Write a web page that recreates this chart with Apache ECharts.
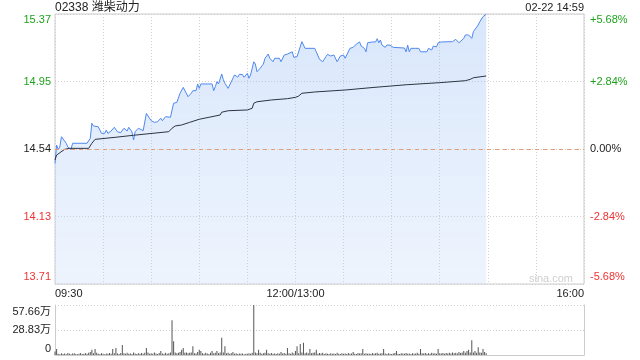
<!DOCTYPE html>
<html>
<head>
<meta charset="utf-8">
<script src="https://cdn.jsdelivr.net/npm/echarts@6/dist/echarts.min.js"></script>
<style>html,body{margin:0;padding:0;background:#fff}#c{width:640px;height:360px}</style>
</head>
<body>
<div id="c"></div>
<script>
const stockTitle = '02338 潍柴动力';
const stampText = '02-22 14:59';
const prevClose = 14.545;
const xTickMinutes = [0, 150, 330];
const xTickLabels = ['09:30', '12:00/13:00', '16:00'];
const priceTickLabels = ['13.71', '14.13', '14.54', '14.95', '15.37'];
const pctTickLabels = ['-5.68%', '-2.84%', '0.00%', '+2.84%', '+5.68%'];
const volTickLabels = ['0', '28.83万', '57.66万'];

const priceMinutes = [0,1,2,3,4,5,7,8,10,11,20,22,23,24,25,27,29,31,32,33,35,37,39,41,43,45,46,48,49,50,52,53,55,57,58,60,62,63,64,66,67,69,72,73,74,76,78,80,81,83,85,86,88,89,90,91,98,99,100,101,102,104,105,106,108,109,111,112,114,115,117,118,120,121,122,124,125,126,128,130,131,133,134,136,137,140,141,143,145,148,149,151,152,154,155,156,162,163,165,167,169,170,172,174,176,178,180,181,182,183,184,186,188,190,191,193,194,195,198,200,201,202,203,204,205,206,207,209,211,212,218,219,220,221,222,225,227,228,232,233,235,236,238,239,241,248,250,252,253,255,256,258,260,261,262,264,265,267,268,269];
const prices = [14.457,14.569,14.543,14.557,14.620,14.615,14.580,14.557,14.543,14.580,14.580,14.610,14.702,14.686,14.690,14.681,14.641,14.641,14.661,14.641,14.655,14.678,14.650,14.645,14.672,14.655,14.678,14.650,14.600,14.651,14.672,14.661,14.657,14.763,14.760,14.718,14.708,14.718,14.712,14.733,14.718,14.743,14.739,14.743,14.825,14.830,14.886,14.922,14.910,14.865,14.886,14.902,14.902,14.943,14.916,14.943,14.943,14.902,14.926,14.957,14.943,15.004,14.970,14.947,14.916,14.925,14.978,14.998,14.985,15.002,15.000,14.984,15.008,14.978,14.998,15.079,15.065,15.018,15.039,15.065,15.100,15.126,15.100,15.079,15.100,15.100,15.079,15.120,15.126,15.140,15.106,15.110,15.100,15.202,15.200,15.161,15.161,15.140,15.094,15.079,15.110,15.124,15.114,15.120,15.079,15.114,15.120,15.100,15.120,15.126,15.161,15.167,15.187,15.200,15.175,15.161,15.140,15.195,15.200,15.200,15.220,15.195,15.212,15.181,15.187,15.167,15.181,15.181,15.167,15.163,15.163,15.140,15.181,15.140,15.161,15.161,15.161,15.140,15.140,15.161,15.151,15.175,15.170,15.195,15.200,15.202,15.216,15.195,15.200,15.222,15.243,15.243,15.222,15.263,15.270,15.304,15.324,15.355,15.365,15.370];

const avgMinutes = [0,1,3,6,9,21,23,25,38,49,71,73,75,79,84,90,96,103,104,108,120,123,124,126,135,145,150,152,154,162,181,199,219,240,256,259,261,269];
const avgPrices = [14.478,14.508,14.522,14.543,14.549,14.549,14.580,14.604,14.617,14.629,14.651,14.672,14.686,14.692,14.708,14.727,14.739,14.753,14.770,14.779,14.784,14.794,14.825,14.834,14.845,14.853,14.861,14.869,14.886,14.894,14.906,14.922,14.938,14.951,14.963,14.971,14.981,14.992];

// volume in 万, one per minute from 09:30
const volumes = [4,7,1.5,1,2,1.2,1.8,1,2.2,1.4,1,1.6,2,1.2,1,1.5,2.3,1.1,1.3,2,1.5,2.5,3.5,6,2,7,2.5,1.5,1.2,2,1.4,1,1.8,1.3,2.2,1.5,7,2,8,1.6,1.2,2.4,11.5,2,1.5,2.6,1.3,1.8,1.2,3,1.6,1.1,2,1.4,2.2,1.5,2.5,8,3,1.5,2,1.3,2.8,1.6,1.2,2.3,4.6,1.8,1.3,2.5,1.5,2,3,40,16,3,2,2.5,3.5,6,8,2.5,3,2,2.5,3,10,2,1.8,3.5,6,4.6,2,1.5,2.5,1.8,1.2,2.5,4.6,2,2.5,4.6,2,3,20,3,10,2,2.5,1.5,2,3.5,1.5,2,1.2,1.8,1.3,1.6,1,1.5,1.3,2,1.5,2.5,57.66,3,2,6,2.5,1.5,2,2.5,6,2,1.5,2.2,1.5,1.8,1.2,2,1.5,3.5,1.6,2.2,1.5,8,2,1.5,2.8,1.8,4.6,10,2,12.7,3,14,2,3,2,7,2,2.5,3,6,1.5,2.2,1.8,2.5,1.2,2,1.5,1.2,2,1.3,1.8,1.1,2.5,1.5,1.2,2,1.4,1.8,1.2,2.2,1.5,1.8,3.5,1.5,1.2,2.4,1.6,2,7,1.5,2,1.3,1.8,1.2,2.2,1.5,2,2.6,1.4,1.8,2,7,1.6,1.2,2,1.5,1.1,1.8,2.4,4.6,1.5,1.2,2,1.6,1.3,2.2,1.5,1.8,1.2,2,1.4,1.8,2.5,1.5,7,2,1.6,2.2,1.5,2,1.3,2.5,1.8,2,1.5,7,2,1.6,2.4,1.5,2.2,1.8,2.5,1.6,3,2,2.5,1.8,3.5,2.2,2.8,4.6,2.5,4.6,6,3,17,3,4.6,2.5,9,3,2.5,7,3.5,2];

const GREEN = '#1fa31f', RED = '#ee3333', BLACK = '#222';
const toPct = p => (p - prevClose) / prevClose * 100;
const pctMin = -5.68, pctStep = 2.84;
const fontFam = '"Liberation Sans", Arial, "Noto Sans CJK SC", sans-serif';
const dotted = {color: '#cfcfcf', type: [1, 2], width: 1};

function tickIdx(v, min, step) { return Math.round((v - min) / step); }
const richStyles = {
  r0: {color: RED, padding: [0,0,14,0]},
  r1: {color: RED},
  k2: {color: BLACK},
  g3: {color: GREEN},
  g4: {color: GREEN, padding: [12,0,0,0]}
};
const keys = ['r0','r1','k2','g3','g4'];

const chart = echarts.init(document.getElementById('c'), null, {renderer: 'canvas'});
chart.setOption({
  animation: false,
  textStyle: {fontFamily: fontFam},
  title: [
    {text: stockTitle, left: 50, top: -3, textStyle: {fontSize: 12, fontWeight: 'normal', color: '#222', fontFamily: fontFam}},
    {text: stampText, right: 51, top: -3, textStyle: {fontSize: 11, fontWeight: 'normal', color: '#222', fontFamily: fontFam}}
  ],
  graphic: [
    {type: 'text', right: 67, top: 273, silent: true, style: {text: 'sina.com', fill: '#cfcfcf', font: '11px ' + fontFam}}
  ],
  grid: [
    {left: 55, right: 56, top: 14, height: 270, show: true, borderColor: '#cccccc', borderWidth: 1},
    {left: 55, right: 56, top: 305, height: 50}
  ],
  xAxis: [
    {type: 'value', gridIndex: 0, min: 0, max: 330, interval: 30,
     axisLine: {show: false}, axisTick: {show: false},
     splitLine: {show: true, lineStyle: dotted},
     axisLabel: {margin: 4, fontSize: 11, color: '#222', alignMinLabel: 'left', alignMaxLabel: 'right',
       formatter: v => { const i = xTickMinutes.indexOf(Math.round(v)); return i >= 0 ? xTickLabels[i] : ''; }}},
    {type: 'value', gridIndex: 1, min: 0, max: 330, interval: 30,
     axisLine: {show: true, lineStyle: {color: '#cccccc'}}, axisTick: {show: false},
     splitLine: {show: false}, axisLabel: {show: false}}
  ],
  yAxis: [
    {type: 'value', gridIndex: 0, min: pctMin, max: 5.68, interval: pctStep, position: 'left',
     axisLine: {show: false}, axisTick: {show: false},
     splitLine: {show: true, lineStyle: dotted},
     axisLabel: {margin: 4, fontSize: 11, rich: richStyles,
       formatter: v => { const i = tickIdx(v, pctMin, pctStep); return '{' + keys[i] + '|' + priceTickLabels[i] + '}'; }}},
    {type: 'value', gridIndex: 0, min: pctMin, max: 5.68, interval: pctStep, position: 'right',
     axisLine: {show: false}, axisTick: {show: false}, splitLine: {show: false},
     axisLabel: {margin: 6, fontSize: 11, rich: richStyles,
       formatter: v => { const i = tickIdx(v, pctMin, pctStep); return '{' + keys[i] + '|' + pctTickLabels[i] + '}'; }}},
    {type: 'value', gridIndex: 1, min: 0, max: 57.66, interval: 28.83, position: 'left',
     axisLine: {show: true, lineStyle: {color: '#cccccc'}}, axisTick: {show: false},
     splitLine: {show: true, lineStyle: dotted},
     axisLabel: {margin: 4, fontSize: 11, color: '#222',
       rich: {b: {padding: [0,0,12,0]}, m: {}, t: {padding: [14,0,0,0]}},
       formatter: v => { const i = tickIdx(v, 0, 28.83); return '{' + ['b','m','t'][i] + '|' + volTickLabels[i] + '}'; }}},
    {type: 'value', gridIndex: 1, min: 0, max: 57.66, interval: 28.83, position: 'right',
     axisLine: {show: true, lineStyle: {color: '#cccccc'}}, axisTick: {show: false},
     splitLine: {show: false}, axisLabel: {show: false}}
  ],
  series: [
    {type: 'line', xAxisIndex: 0, yAxisIndex: 0, symbol: 'none', silent: true,
     data: priceMinutes.map((m, i) => [m, toPct(prices[i])]),
     lineStyle: {color: '#5088ee', width: 1},
     areaStyle: {origin: 'start', color: new echarts.graphic.LinearGradient(0, 0, 0, 1, [
       {offset: 0, color: 'rgba(155,192,245,0.55)'},
       {offset: 1, color: 'rgba(200,220,250,0.45)'}])},
     markLine: {silent: true, symbol: 'none', label: {show: false},
       lineStyle: {color: '#eb9a78', type: [4, 4], width: 1},
       data: [{yAxis: 0}]}},
    {type: 'line', xAxisIndex: 0, yAxisIndex: 0, symbol: 'none', silent: true,
     data: avgMinutes.map((m, i) => [m, toPct(avgPrices[i])]),
     lineStyle: {color: '#2c3340', width: 1}},
    {type: 'bar', xAxisIndex: 1, yAxisIndex: 2, barWidth: 1, silent: true,
     data: volumes.map((v, i) => [i, v]),
     itemStyle: {color: '#555555'}}
  ]
});
</script>
</body>
</html>
